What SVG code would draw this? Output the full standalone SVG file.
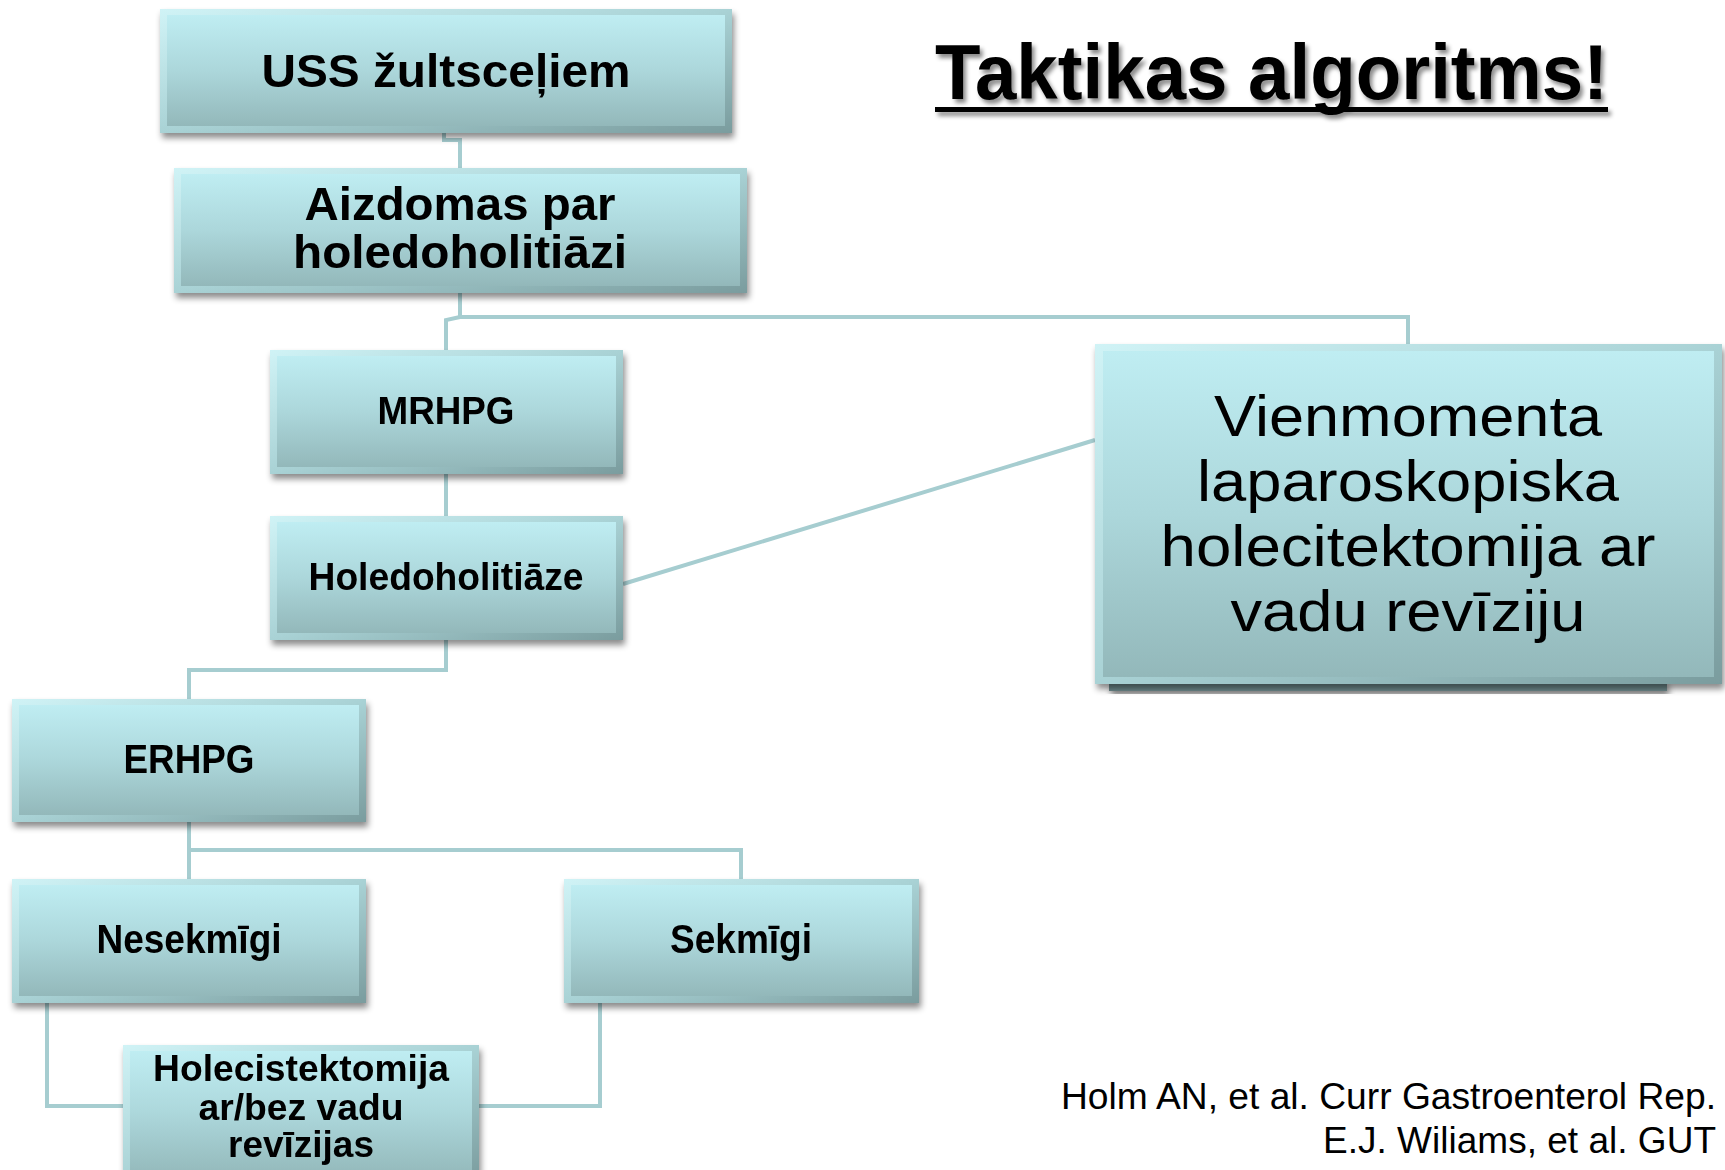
<svg xmlns="http://www.w3.org/2000/svg" width="1725" height="1170" viewBox="0 0 1725 1170">
<defs>
<linearGradient id="gFace" x1="0" y1="0" x2="0" y2="1">
<stop offset="0" stop-color="#bfedf2"/>
<stop offset="0.5" stop-color="#acd7db"/>
<stop offset="1" stop-color="#93b8ba"/>
</linearGradient>
<linearGradient id="gBevel" x1="0" y1="0" x2="1" y2="1">
<stop offset="0" stop-color="#d0f3f6"/>
<stop offset="0.5" stop-color="#a9d2d5"/>
<stop offset="1" stop-color="#7a9c9e"/>
</linearGradient>
<filter id="shadow" x="-10%" y="-10%" width="120%" height="130%">
<feDropShadow dx="2" dy="5" stdDeviation="3" flood-color="#000" flood-opacity="0.45"/>
</filter>
<filter id="tshadow" x="-5%" y="-20%" width="110%" height="140%">
<feDropShadow dx="3" dy="4" stdDeviation="2" flood-color="#000" flood-opacity="0.45"/>
</filter>
</defs>
<style>
.outer{fill:url(#gBevel)}
.face{fill:url(#gFace)}
.conn{fill:none;stroke:#a6cdd0;stroke-width:4}
.b{font-family:"Liberation Sans",Arial,sans-serif;font-weight:bold;fill:#000;text-anchor:middle}
.r{font-family:"Liberation Sans",Arial,sans-serif;fill:#000;text-anchor:middle}
</style>
<rect width="1725" height="1170" fill="#fff"/>

<g id="connectors">
<polyline class="conn" points="444,133 444,140 460,140 460,168"/>
<polyline class="conn" points="460,293 460,317 1408,317 1408,344"/>
<polyline class="conn" points="460,317 446,320 446,350"/>
<line class="conn" x1="446" y1="474" x2="446" y2="516"/>
<line class="conn" x1="623" y1="584" x2="1095" y2="440"/>
<polyline class="conn" points="446,640 446,670 189,670 189,699"/>
<line class="conn" x1="189" y1="822" x2="189" y2="879"/>
<polyline class="conn" points="189,850 741,850 741,879"/>
<polyline class="conn" points="47,1003 47,1106 123,1106"/>
<polyline class="conn" points="600,1003 600,1106 479,1106"/>
</g>

<g id="n1" filter="url(#shadow)">
<rect class="outer" x="160" y="9" width="572" height="124"/>
<rect class="face" x="167" y="15" width="558" height="111"/>
<text class="b" x="446" y="87" font-size="47" textLength="369" lengthAdjust="spacingAndGlyphs">USS žultsceļiem</text>
</g>

<g id="n2" filter="url(#shadow)">
<rect class="outer" x="174" y="168" width="573" height="125"/>
<rect class="face" x="181" y="174" width="559" height="112"/>
<text class="b" x="460" y="220" font-size="47" textLength="311" lengthAdjust="spacingAndGlyphs">Aizdomas par</text>
<text class="b" x="460" y="268" font-size="47" textLength="334" lengthAdjust="spacingAndGlyphs">holedoholitiāzi</text>
</g>

<g id="n3" filter="url(#shadow)">
<rect class="outer" x="270" y="350" width="353" height="124"/>
<rect class="face" x="277" y="356" width="339" height="111"/>
<text class="b" x="446" y="424" font-size="38" textLength="137" lengthAdjust="spacingAndGlyphs">MRHPG</text>
</g>

<g id="n4" filter="url(#shadow)">
<rect class="outer" x="270" y="516" width="353" height="124"/>
<rect class="face" x="277" y="522" width="339" height="111"/>
<text class="b" x="446" y="590" font-size="38" textLength="275" lengthAdjust="spacingAndGlyphs">Holedoholitiāze</text>
</g>

<g id="n5" filter="url(#shadow)">
<rect class="outer" x="12" y="699" width="354" height="123"/>
<rect class="face" x="19" y="705" width="340" height="110"/>
<text class="b" x="189" y="773" font-size="40" textLength="131" lengthAdjust="spacingAndGlyphs">ERHPG</text>
</g>

<g id="n6" filter="url(#shadow)">
<rect class="outer" x="12" y="879" width="354" height="124"/>
<rect class="face" x="19" y="885" width="340" height="111"/>
<text class="b" x="189" y="953" font-size="40" textLength="185" lengthAdjust="spacingAndGlyphs">Nesekmīgi</text>
</g>

<g id="n7" filter="url(#shadow)">
<rect class="outer" x="564" y="879" width="355" height="124"/>
<rect class="face" x="571" y="885" width="341" height="111"/>
<text class="b" x="741" y="953" font-size="40" textLength="142" lengthAdjust="spacingAndGlyphs">Sekmīgi</text>
</g>

<g id="n8" filter="url(#shadow)">
<rect class="outer" x="123" y="1045" width="356" height="135"/>
<rect class="face" x="130" y="1051" width="342" height="126"/>
<text class="b" x="301" y="1081" font-size="36" textLength="296" lengthAdjust="spacingAndGlyphs">Holecistektomija</text>
<text class="b" x="301" y="1120" font-size="36" textLength="205" lengthAdjust="spacingAndGlyphs">ar/bez vadu</text>
<text class="b" x="301" y="1157" font-size="36" textLength="146" lengthAdjust="spacingAndGlyphs">revīzijas</text>
</g>

<g id="n9">
<rect x="1109" y="680" width="558" height="11" fill="#6e8a8c" filter="url(#shadow)"/>
<g filter="url(#shadow)">
<rect class="outer" x="1095" y="344" width="627" height="340"/>
<rect class="face" x="1103" y="351" width="611" height="326"/>
</g>
<text class="r" x="1408" y="436" font-size="57" textLength="388" lengthAdjust="spacingAndGlyphs">Vienmomenta</text>
<text class="r" x="1408" y="501" font-size="57" textLength="422" lengthAdjust="spacingAndGlyphs">laparoskopiska</text>
<text class="r" x="1408" y="566" font-size="57" textLength="495" lengthAdjust="spacingAndGlyphs">holecitektomija ar</text>
<text class="r" x="1408" y="631" font-size="57" textLength="355" lengthAdjust="spacingAndGlyphs">vadu revīziju</text>
</g>

<g id="title" filter="url(#tshadow)">
<text x="935" y="99" font-family="Liberation Sans,Arial,sans-serif" font-weight="bold" font-size="77" fill="#000" textLength="673" lengthAdjust="spacingAndGlyphs">Taktikas algoritms!</text>
<rect x="935" y="107" width="673" height="5" fill="#000"/>
</g>

<g id="citation">
<text x="1716" y="1109" font-family="Liberation Sans,Arial,sans-serif" font-size="36" fill="#000" text-anchor="end" textLength="655" lengthAdjust="spacingAndGlyphs">Holm AN, et al. Curr Gastroenterol Rep.</text>
<text x="1716" y="1153" font-family="Liberation Sans,Arial,sans-serif" font-size="36" fill="#000" text-anchor="end" textLength="393" lengthAdjust="spacingAndGlyphs">E.J. Wiliams, et al. GUT</text>
</g>
</svg>
